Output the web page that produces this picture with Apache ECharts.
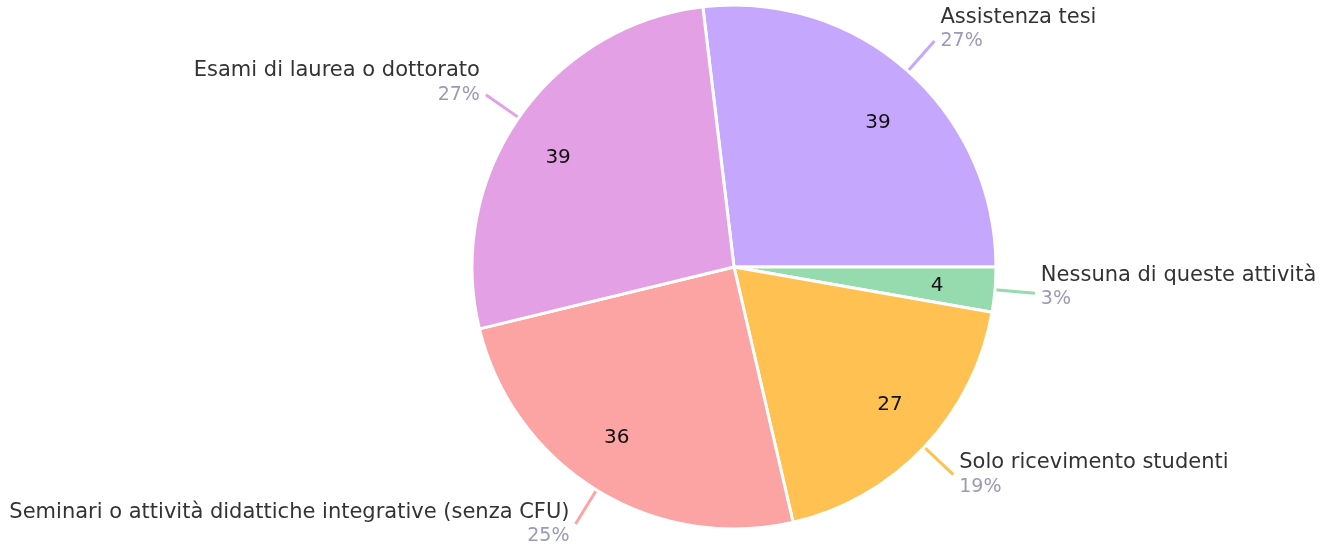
<!DOCTYPE html>
<html><head><meta charset="utf-8">
<script src="https://cdn.jsdelivr.net/npm/echarts@6/dist/echarts.min.js"></script>
<style>html,body{margin:0;padding:0;background:#fff}#c{width:1321px;height:548px}</style>
</head><body><div id="c"></div>
<script>
const categories = ["Assistenza tesi", "Nessuna di queste attività", "Solo ricevimento studenti", "Seminari o attività didattiche integrative (senza CFU)", "Esami di laurea o dottorato"];
const values = [39, 4, 27, 36, 39];
const colors = ["#c5a8fd", "#95dbad", "#ffc252", "#fca3a3", "#e3a0e4"];
const labelShift = [-12, -6, 0, 0, -12];
const innerShift = [[6, 11], [-4, 1], [5, -5], [-8, -6], [-5, 9]];

const total = values.reduce((a, b) => a + b, 0);
const startAngle = values[0] / total * 360;
const FONT = "'DejaVu Sans', sans-serif";

const outerData = categories.map((name, i) => ({
  name, value: values[i],
  itemStyle: { color: colors[i] },
  labelLine: { lineStyle: { color: colors[i], width: 3 } },
  label: { offset: [0, labelShift[i]] }
}));
const innerData = categories.map((name, i) => ({
  name, value: values[i],
  label: { offset: innerShift[i] }
}));

const chart = echarts.init(document.getElementById('c'), null, { renderer: 'canvas' });
chart.setOption({
  animation: false,
  series: [{
    type: 'pie',
    center: [734, 267],
    radius: [0, 262],
    startAngle: startAngle,
    clockwise: true,
    avoidLabelOverlap: false,
    itemStyle: { borderColor: '#fff', borderWidth: 3 },
    label: {
      show: true,
      position: 'outside',
      distanceToLabelLine: 6,
      fontFamily: FONT,
      formatter: p => '{n|' + p.name + '}\n{p|' + Math.round(p.value / total * 100) + '%}',
      rich: {
        n: { fontSize: 21, color: '#333333', fontFamily: FONT, lineHeight: 24 },
        p: { fontSize: 19, color: '#9a9ab6', fontFamily: FONT, lineHeight: 24 }
      }
    },
    labelLine: { show: true, length: 40, length2: 0, smooth: false },
    emphasis: { disabled: true },
    data: outerData
  }, {
    type: 'pie',
    center: [734, 267],
    radius: [148, 262],
    startAngle: startAngle,
    clockwise: true,
    silent: true,
    itemStyle: { color: 'rgba(0,0,0,0)', borderWidth: 0 },
    label: {
      show: true, position: 'inside',
      formatter: p => String(p.value),
      fontSize: 20, color: '#111111', fontFamily: FONT
    },
    labelLine: { show: false },
    emphasis: { disabled: true },
    data: innerData
  }]
});
</script></body></html>
